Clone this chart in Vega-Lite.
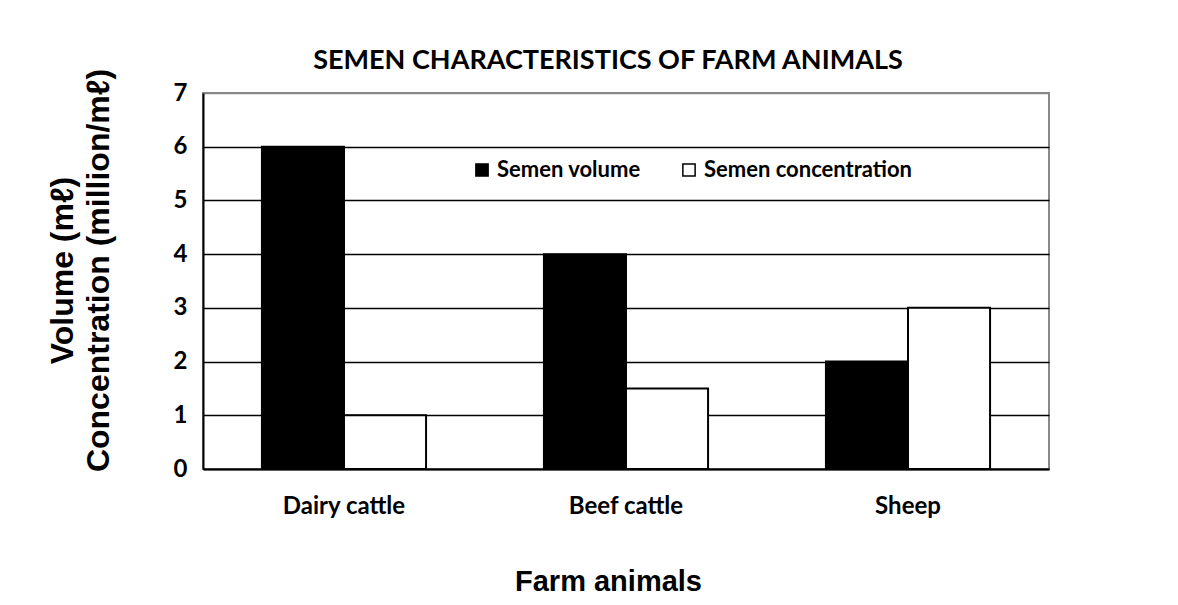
{
  "$schema": "https://vega.github.io/schema/vega-lite/v6.json",
  "autosize": {"type": "none"},
  "padding": {"left": 203, "top": 93, "right": 129, "bottom": 136},
  "width": 846,
  "height": 376,
  "background": "white",
  "title": {
    "text": "SEMEN CHARACTERISTICS OF FARM ANIMALS",
    "anchor": "middle",
    "dx": -18,
    "dy": 54,
    "baseline": "alphabetic",
    "offset": 26,
    "font": "Lato",
    "fontSize": 27,
    "fontWeight": "bold",
    "color": "black"
  },
  "data": {
    "values": [
      {"animal": "Dairy cattle", "measure": "Semen volume", "value": 6},
      {"animal": "Dairy cattle", "measure": "Semen concentration", "value": 1},
      {"animal": "Beef cattle", "measure": "Semen volume", "value": 4},
      {"animal": "Beef cattle", "measure": "Semen concentration", "value": 1.5},
      {"animal": "Sheep", "measure": "Semen volume", "value": 2},
      {"animal": "Sheep", "measure": "Semen concentration", "value": 3}
    ]
  },
  "mark": {"type": "bar", "stroke": "black", "strokeWidth": 2, "opacity": 1},
  "encoding": {
    "x": {
      "field": "animal",
      "type": "nominal",
      "sort": ["Dairy cattle", "Beef cattle", "Sheep"],
      "scale": {"paddingInner": 0.418, "paddingOuter": 0.209},
      "axis": {
        "title": "Farm animals",
        "titleFont": "Liberation Sans",
        "titleFontSize": 29,
        "titleFontWeight": "bold",
        "titleColor": "black",
        "titleX": 405,
        "titleY": 121,
        "titleBaseline": "alphabetic",
        "titleAlign": "center",
        "labelFont": "Lato",
        "labelFontSize": 24,
        "labelFontWeight": "bold",
        "labelColor": "black",
        "labelAngle": 0,
        "labelPadding": 25,
        "labelLimit": 0,
        "ticks": false,
        "domainColor": "black",
        "domainWidth": 2
      }
    },
    "xOffset": {
      "field": "measure",
      "type": "nominal",
      "sort": ["Semen volume", "Semen concentration"],
      "scale": {"paddingInner": 0, "paddingOuter": 0}
    },
    "y": {
      "field": "value",
      "type": "quantitative",
      "scale": {"domain": [0, 7], "nice": false},
      "axis": {
        "values": [0, 1, 2, 3, 4, 5, 6, 7],
        "title": ["Volume (mℓ)", "Concentration (million/mℓ)"],
        "titleFont": "Liberation Sans",
        "titleFontSize": 32,
        "titleFontWeight": "bold",
        "titleColor": "black",
        "titleLineHeight": 36,
        "titleAngle": -90,
        "titleX": -141,
        "titleY": 177,
        "titleAlign": "center",
        "titleBaseline": "middle",
        "titleLimit": 0,
        "labelFont": "Lato",
        "labelFontSize": 24,
        "labelFontWeight": "bold",
        "labelColor": "black",
        "labelPadding": 16,
        "ticks": false,
        "domainColor": "black",
        "domainWidth": 2,
        "grid": true,
        "gridColor": {"condition": {"test": "datum.value == 7", "value": "#888888"}, "value": "black"},
        "gridWidth": 1.5,
        "gridOpacity": 1
      }
    },
    "color": {
      "field": "measure",
      "type": "nominal",
      "sort": ["Semen volume", "Semen concentration"],
      "scale": {"domain": ["Semen volume", "Semen concentration"], "range": ["black", "white"]},
      "legend": {
        "title": null,
        "orient": "none",
        "legendX": 268,
        "legendY": 66,
        "direction": "horizontal",
        "symbolType": "square",
        "symbolSize": 150,
        "symbolStrokeColor": "black",
        "symbolStrokeWidth": 1.5,
        "symbolOpacity": 1,
        "labelFont": "Lato",
        "labelFontSize": 22,
        "labelFontWeight": "bold",
        "labelColor": "black",
        "labelOffset": 4,
        "labelLimit": 0,
        "columnPadding": 37
      }
    }
  },
  "config": {
    "view": {"stroke": "#888888", "strokeWidth": 2}
  }
}
